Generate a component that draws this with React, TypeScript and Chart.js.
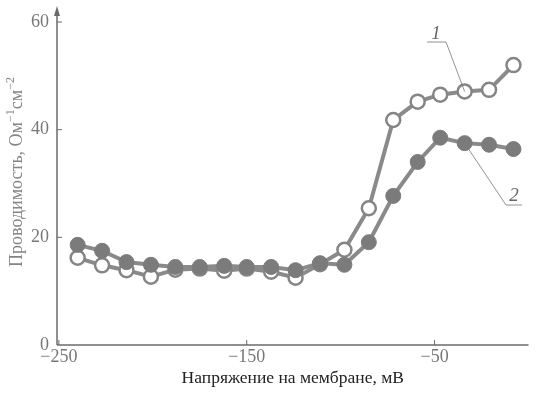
import React, { useEffect, useRef } from "react";
import { Chart, registerables } from "chart.js";
Chart.register(...registerables);

const voltage = [-240, -227, -214, -201, -188, -175, -162, -150, -137, -124, -111, -98, -85, -72, -59, -47, -34, -21, -8];
const curve1 = [16.2, 14.8, 13.9, 12.7, 14.0, 14.2, 13.8, 14.2, 13.6, 12.5, 15.0, 17.7, 25.4, 41.8, 45.2, 46.5, 47.1, 47.4, 52.0];
const curve2 = [18.6, 17.5, 15.4, 14.9, 14.5, 14.5, 14.7, 14.5, 14.5, 13.9, 15.2, 14.9, 19.1, 27.7, 34.0, 38.5, 37.5, 37.2, 36.4];
const xTicks = [-250, -150, -50];
const yTicks = [0, 20, 40, 60];
const xTitle = "Напряжение на мембране, мВ";
const yTitleParts: [string, boolean][] = [
  ["Проводимость, Ом", false],
  ["−1", true],
  ["см", false],
  ["−2", true],
];
const label1 = "1";
const label2 = "2";
const label1Point = 16;
const label2Point = 16;

const SERIF = "'Liberation Serif', 'DejaVu Serif', serif";

const decor = {
  id: "decor",
  beforeDatasetsDraw(chart: any) {
    const { ctx, scales } = chart;
    const xs = scales.x;
    const ys = scales.y;
    const y0 = ys.getPixelForValue(0);
    const xl = xs.left;
    const top = 8;
    ctx.save();
    ctx.strokeStyle = "#6a6a6a";
    ctx.fillStyle = "#6a6a6a";
    ctx.lineWidth = 1.5;
    ctx.beginPath();
    ctx.moveTo(xl, y0);
    ctx.lineTo(xs.right, y0);
    ctx.stroke();
    ctx.beginPath();
    ctx.moveTo(xl, y0);
    ctx.lineTo(xl, top + 4);
    ctx.stroke();
    ctx.beginPath();
    ctx.moveTo(xl, top - 2);
    ctx.lineTo(xl - 3, top + 8);
    ctx.lineTo(xl + 3, top + 8);
    ctx.closePath();
    ctx.fill();
    ctx.lineWidth = 1;
    yTicks.forEach((v) => {
      if (v === 0) return;
      const p = ys.getPixelForValue(v);
      ctx.beginPath();
      ctx.moveTo(xl, p);
      ctx.lineTo(xl + 5, p);
      ctx.stroke();
    });
    xTicks.forEach((v) => {
      const p = xs.getPixelForValue(v);
      ctx.beginPath();
      ctx.moveTo(p, y0);
      ctx.lineTo(p, y0 - 5);
      ctx.stroke();
    });
    ctx.restore();
  },
  afterDraw(chart: any) {
    const { ctx, scales } = chart;
    const xs = scales.x;
    const ys = scales.y;
    ctx.save();
    // y title
    const bigFont = `18px ${SERIF}`;
    const supFont = `12px ${SERIF}`;
    let total = 0;
    yTitleParts.forEach(([t, sup]) => {
      ctx.font = sup ? supFont : bigFont;
      total += ctx.measureText(t).width;
    });
    const cy = 172;
    ctx.translate(17, cy);
    ctx.rotate(-Math.PI / 2);
    ctx.fillStyle = "#858585";
    ctx.textBaseline = "middle";
    ctx.textAlign = "left";
    let pos = -total / 2;
    yTitleParts.forEach(([t, sup]) => {
      ctx.font = sup ? supFont : bigFont;
      ctx.fillText(t, pos, sup ? -6 : 0);
      pos += ctx.measureText(t).width;
    });
    ctx.setTransform(1, 0, 0, 1, 0, 0);
    // annotations
    ctx.strokeStyle = "#777";
    ctx.fillStyle = "#666";
    ctx.lineWidth = 0.8;
    ctx.font = `italic 19px ${SERIF}`;
    ctx.textAlign = "center";
    ctx.textBaseline = "alphabetic";
    const p1x = xs.getPixelForValue(voltage[label1Point]);
    const p1y = ys.getPixelForValue(curve1[label1Point]);
    ctx.fillText(label1, 436, 39);
    ctx.beginPath();
    ctx.moveTo(427, 42);
    ctx.lineTo(446, 42);
    ctx.lineTo(p1x, p1y);
    ctx.stroke();
    const p2x = xs.getPixelForValue(voltage[label2Point]);
    const p2y = ys.getPixelForValue(curve2[label2Point]);
    ctx.fillText(label2, 514, 201);
    ctx.beginPath();
    ctx.moveTo(p2x, p2y);
    ctx.lineTo(506, 205);
    ctx.lineTo(522, 205);
    ctx.stroke();
    ctx.restore();
  },
};

export default function App() {
  const ref = useRef<HTMLCanvasElement | null>(null);
  useEffect(() => {
    if (!ref.current) return;
    const chart = new Chart(ref.current, {
      type: "line",
      data: {
        datasets: [
          {
            label: "2",
            data: voltage.map((v, i) => ({ x: v, y: curve2[i] })),
            borderColor: "#8a8a8a",
            borderWidth: 4,
            pointBackgroundColor: "#7b7b7b",
            pointBorderColor: "#7b7b7b",
            pointBorderWidth: 1,
            pointRadius: 7.5,
            order: 0,
          },
          {
            label: "1",
            data: voltage.map((v, i) => ({ x: v, y: curve1[i] })),
            borderColor: "#8a8a8a",
            borderWidth: 4,
            pointBackgroundColor: "#ffffff",
            pointBorderColor: "#858585",
            pointBorderWidth: 2.5,
            pointRadius: 7,
            order: 1,
          },
        ],
      },
      options: {
        animation: false,
        responsive: false,
        layout: { padding: { top: 22, left: 0, right: 0, bottom: 0 } },
        plugins: { legend: { display: false }, tooltip: { enabled: false } },
        scales: {
          x: {
            type: "linear",
            min: -251,
            max: 0,
            grid: { display: false, drawTicks: false },
            border: { display: false },
            afterBuildTicks: (s: any) => {
              s.ticks = xTicks.map((v) => ({ value: v }));
            },
            afterFit: (s: any) => {
              s.height = 48;
            },
            ticks: {
              padding: 1,
              color: "#777",
              font: { family: SERIF, size: 18 },
              callback: (v: any) => String(v).replace("-", "−"),
            },
            title: {
              display: true,
              text: xTitle,
              color: "#222",
              font: { family: SERIF, size: 17.5 },
              padding: { top: 0, bottom: 4 },
            },
          },
          y: {
            min: 0,
            max: 60,
            grid: { display: false, drawTicks: false },
            border: { display: false },
            afterBuildTicks: (s: any) => {
              s.ticks = yTicks.map((v) => ({ value: v }));
            },
            afterFit: (s: any) => {
              s.width = 57;
            },
            ticks: {
              padding: 8,
              color: "#777",
              font: { family: SERIF, size: 18 },
            },
          },
        },
      },
      plugins: [decor],
    });
    return () => chart.destroy();
  }, []);
  return (
    <div style={{ position: "fixed", left: 0, top: 0, width: 538, height: 393, background: "#fff" }}>
      <canvas ref={ref} width={538} height={393} style={{ width: 538, height: 393 }} />
    </div>
  );
}
